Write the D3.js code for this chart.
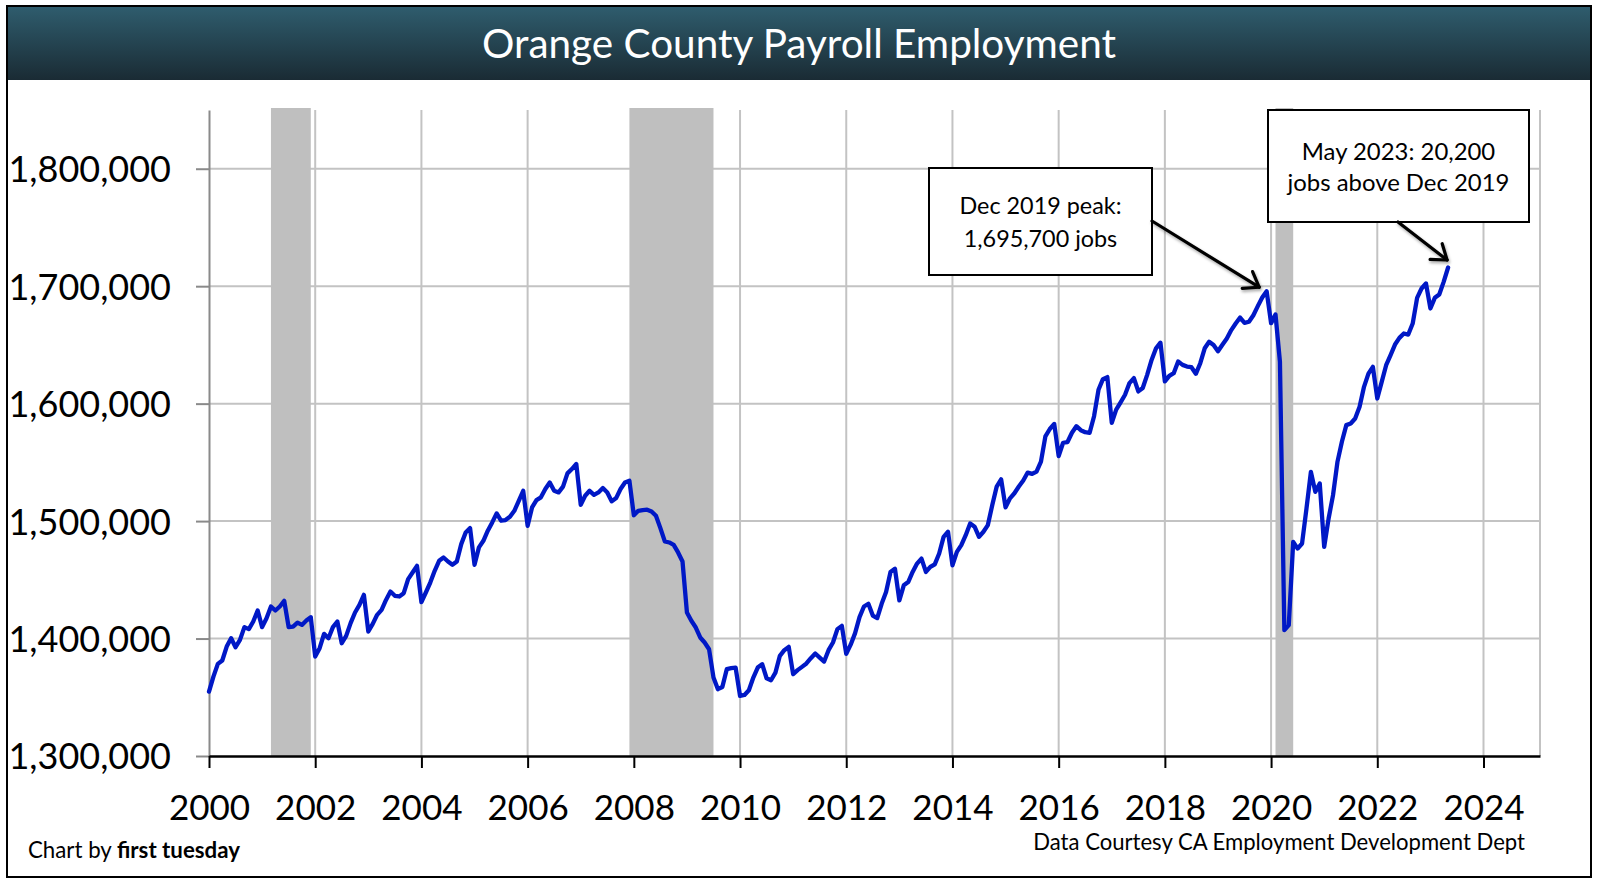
<!DOCTYPE html>
<html>
<head>
<meta charset="utf-8">
<script src="https://cdn.jsdelivr.net/npm/d3@7"></script>
<style>
  html, body { margin: 0; padding: 0; background: #ffffff; }
  svg { display: block; font-family: Lato, "Open Sans", "Noto Sans", sans-serif; }
</style>
</head>
<body>
<svg id="chart" width="1598" height="886"></svg>
<script>
// ---------------- DATA ----------------
const chartTitle = "Orange County Payroll Employment";
const startYear = 2000; // first monthly observation: Jan 2000
const payroll = [
  // 2000
  1354800, 1367600, 1378400, 1381300, 1393200, 1400300, 1392600, 1398900, 1409700, 1408000, 1414500, 1423900,
  // 2001
  1409700, 1417300, 1427300, 1423900, 1427300, 1432100, 1409700, 1410200, 1413600, 1411600, 1415300, 1418200,
  // 2002
  1384700, 1391800, 1404000, 1400300, 1409700, 1414500, 1396000, 1402300, 1413100, 1422200, 1428700, 1437200,
  // 2003
  1406000, 1412500, 1420200, 1424400, 1432900, 1440000, 1436400, 1435800, 1438600, 1450600, 1456200, 1461900,
  // 2004
  1431000, 1439200, 1447700, 1457700, 1466200, 1469000, 1465600, 1462800, 1465600, 1480400, 1490300, 1494000,
  // 2005
  1462800, 1477600, 1483200, 1491800, 1498900, 1506500, 1500300, 1500900, 1503700, 1508800, 1517300, 1525800,
  // 2006
  1496000, 1511600, 1517900, 1520200, 1527300, 1532900, 1525800, 1524400, 1529300, 1540600, 1544300, 1548600,
  // 2007
  1513900, 1521600, 1525800, 1522400, 1524400, 1528100, 1524400, 1516800, 1519600, 1527300, 1532900, 1534400,
  // 2008
  1505000, 1508800, 1509400, 1509700, 1508200, 1504500, 1494000, 1482700, 1481800, 1479800, 1473300, 1465600,
  // 2009
  1422200, 1415100, 1409400, 1400900, 1396600, 1390900, 1366800, 1356900, 1358700, 1373900, 1374800, 1375300,
  // 2010
  1351200, 1352000, 1356000, 1366800, 1375300, 1378200, 1366200, 1364500, 1371000, 1385300, 1390100, 1392900,
  // 2011
  1369600, 1373100, 1375900, 1378800, 1383300, 1387300, 1383800, 1380400, 1390100, 1396600, 1408000, 1410800,
  // 2012
  1386900, 1394800, 1404600, 1418200, 1427300, 1429600, 1419600, 1417400, 1429600, 1439600, 1456700, 1459500,
  // 2013
  1432500, 1445300, 1448100, 1456700, 1463800, 1468100, 1456700, 1461000, 1463200, 1472400, 1486600, 1490900,
  // 2014
  1462400, 1473800, 1479500, 1488000, 1498000, 1495200, 1486600, 1490900, 1496600, 1513700, 1529400, 1535600,
  // 2015
  1511700, 1519400, 1523700, 1529400, 1534500, 1541300, 1540200, 1542200, 1550700, 1572100, 1578400, 1582700,
  // 2016
  1555400, 1566700, 1567300, 1575200, 1580800, 1577400, 1575700, 1575200, 1589300, 1611800, 1620900, 1622600,
  // 2017
  1583600, 1594900, 1601100, 1607600, 1617500, 1621700, 1610400, 1613300, 1624500, 1637200, 1647100, 1651900,
  // 2018
  1618900, 1623700, 1625900, 1635800, 1633000, 1631600, 1631000, 1625400, 1634400, 1647100, 1652700, 1649900,
  // 2019
  1644600, 1650100, 1655500, 1662600, 1668200, 1673300, 1668800, 1669700, 1675300, 1683000, 1690300, 1695700,
  // 2020
  1668500, 1675900, 1635600, 1407100, 1411400, 1482300, 1476600, 1480900, 1510700, 1541900, 1524900, 1532000,
  // 2021
  1478100, 1502200, 1522100, 1550400, 1567500, 1581700, 1583100, 1587300, 1597300, 1614300, 1625600, 1631300,
  // 2022
  1604400, 1618500, 1632700, 1641300, 1650300, 1656000, 1659700, 1658800, 1668200, 1690100, 1698000, 1702300,
  // 2023
  1681000, 1690100, 1692900, 1703700, 1715900
];
const xTickYears = [2000, 2002, 2004, 2006, 2008, 2010, 2012, 2014, 2016, 2018, 2020, 2022, 2024];
const yTickValues = [1300000, 1400000, 1500000, 1600000, 1700000, 1800000];
const recessionStart = [2001 + 2 / 12, 2007 + 11 / 12, 2020 + 1 / 12];
const recessionEnd   = [2001 + 11 / 12, 2009 + 6 / 12, 2020 + 5 / 12];
const notePeakLines = ["Dec 2019 peak:", "1,695,700 jobs"];
const noteLatestLines = ["May 2023: 20,200", "jobs above Dec 2019"];
const notePeakIndex = 239;   // Dec 2019
const noteLatestIndex = 280; // May 2023
const creditLeft = ["Chart by ", "first tuesday"];
const creditRight = "Data Courtesy CA Employment Development Dept";

// ---------------- LAYOUT ----------------
const W = 1598, H = 886;
const plot = { left: 209, right: 1540, top: 110, bottom: 756 };
const svg = d3.select("#chart");

function fitWidth(sel, target) {
  const len = sel.node().getComputedTextLength();
  const fs = parseFloat(sel.attr("font-size"));
  sel.attr("font-size", (fs * target / len).toFixed(2));
}

const x = d3.scaleLinear().domain([2000, 2025.064]).range([plot.left, plot.right]);
const y = d3.scaleLinear().domain([1300000, 1850000]).range([plot.bottom, plot.top]);
const series = payroll.map((v, i) => ({ t: startYear + i / 12, v }));

// Defs
const defs = svg.append("defs");
const grad = defs.append("linearGradient").attr("id", "titleGrad")
  .attr("x1", 0).attr("y1", 0).attr("x2", 0).attr("y2", 1);
grad.append("stop").attr("offset", "0%").attr("stop-color", "#2f5d6e");
grad.append("stop").attr("offset", "100%").attr("stop-color", "#1a2b34");
const shadow = defs.append("filter").attr("id", "arrowShadow")
  .attr("x", "-20%").attr("y", "-20%").attr("width", "140%").attr("height", "140%");
shadow.append("feDropShadow").attr("dx", 1).attr("dy", 2).attr("stdDeviation", 1.5)
  .attr("flood-color", "#000").attr("flood-opacity", 0.35);

// Background
svg.append("rect").attr("x", 0).attr("y", 0).attr("width", W).attr("height", H).attr("fill", "#ffffff");

// Title bar
svg.append("rect").attr("x", 7).attr("y", 6).attr("width", 1584).attr("height", 74)
  .attr("fill", "url(#titleGrad)");
const titleText = svg.append("text").attr("x", 799).attr("y", 58)
  .attr("text-anchor", "middle").attr("fill", "#ffffff").attr("font-size", 36)
  .text(chartTitle);
fitWidth(titleText, 634);

// Gridlines
const grid = svg.append("g");
grid.selectAll("line.h").data(yTickValues.slice(1)).join("line")
  .attr("x1", plot.left).attr("x2", plot.right)
  .attr("y1", d => y(d)).attr("y2", d => y(d))
  .attr("stroke", "#c3c3c3").attr("stroke-width", 2);
grid.selectAll("line.v").data(xTickYears.slice(1).concat([x.domain()[1]])).join("line")
  .attr("x1", d => x(d)).attr("x2", d => x(d))
  .attr("y1", plot.top).attr("y2", plot.bottom)
  .attr("stroke", "#c3c3c3").attr("stroke-width", 2);

// Recession bands
svg.append("g").selectAll("rect").data(recessionStart).join("rect")
  .attr("x", d => x(d))
  .attr("width", (d, i) => x(recessionEnd[i]) - x(d))
  .attr("y", plot.top - 2).attr("height", plot.bottom - plot.top + 2)
  .attr("fill", "#bfbfbf");

// Y axis
const yAxis = svg.append("g").attr("transform", `translate(${plot.left},0)`)
  .call(d3.axisLeft(y).tickValues(yTickValues).tickSize(13).tickSizeOuter(0)
    .tickPadding(25).tickFormat(d3.format(",")));
yAxis.select(".domain").attr("stroke", "#8a8a8a").attr("stroke-width", 2);
yAxis.selectAll(".tick line").attr("stroke", "#8a8a8a").attr("stroke-width", 2);
yAxis.selectAll(".tick text").attr("font-size", 36).attr("fill", "#000")
  .attr("font-family", "Lato, sans-serif").attr("dy", "0.36em");

// X axis
const xAxis = svg.append("g").attr("transform", `translate(0,${plot.bottom})`)
  .call(d3.axisBottom(x).tickValues(xTickYears).tickSize(12).tickSizeOuter(0)
    .tickFormat(d3.format("d")));
xAxis.select(".domain").attr("stroke", "#000").attr("stroke-width", 2.5);
xAxis.selectAll(".tick line").attr("stroke", "#000").attr("stroke-width", 2);
xAxis.selectAll(".tick text").attr("font-size", 35).attr("fill", "#000")
  .attr("font-family", "Lato, sans-serif").attr("y", 64).attr("dy", 0);

// Data line
svg.append("path").datum(series)
  .attr("fill", "none").attr("stroke", "#0018c6").attr("stroke-width", 4.3)
  .attr("stroke-linejoin", "round").attr("stroke-linecap", "round")
  .attr("d", d3.line().x(d => x(d.t)).y(d => y(d.v)));

// Annotations
function noteBox(bx, by, bw, bh, lines, baselines, fitIndex, fitTarget) {
  const g = svg.append("g");
  g.append("rect").attr("x", bx).attr("y", by).attr("width", bw).attr("height", bh)
    .attr("fill", "#fff").attr("stroke", "#000").attr("stroke-width", 2);
  const texts = lines.map((s, i) => g.append("text")
    .attr("x", bx + bw / 2).attr("y", baselines[i]).attr("text-anchor", "middle")
    .attr("font-size", 22).attr("fill", "#000").text(s));
  fitWidth(texts[fitIndex], fitTarget);
  const fs = texts[fitIndex].attr("font-size");
  texts.forEach(t => t.attr("font-size", fs));
}
noteBox(929, 168, 223, 107, notePeakLines, [214, 247], 0, 162);
noteBox(1268, 110, 261, 112, noteLatestLines, [160, 191], 1, 222);

function arrow(x0, y0, x1, y1) {
  const g = svg.append("g").attr("stroke", "#000").attr("stroke-width", 3.2)
    .attr("fill", "none").attr("stroke-linecap", "round").attr("stroke-linejoin", "round")
    .attr("filter", "url(#arrowShadow)");
  g.append("line").attr("x1", x0).attr("y1", y0).attr("x2", x1).attr("y2", y1);
  const a = Math.atan2(y1 - y0, x1 - x0), L = 17, s = 0.62;
  g.append("path").attr("d",
    `M${x1 - L * Math.cos(a - s)},${y1 - L * Math.sin(a - s)}L${x1},${y1}L${x1 - L * Math.cos(a + s)},${y1 - L * Math.sin(a + s)}`);
}
const pPeak = series[notePeakIndex], pLast = series[noteLatestIndex];
arrow(1152, 221, x(pPeak.t) - 7.5, y(pPeak.v) - 4);
arrow(1398, 222, x(pLast.t) - 1, y(pLast.v) - 7.5);

// Credits
const cl = svg.append("text").attr("x", 28).attr("y", 858).attr("font-size", 20).attr("fill", "#000");
cl.append("tspan").text(creditLeft[0]);
cl.append("tspan").attr("font-weight", "bold").text(creditLeft[1]);
fitWidth(cl, 212);
const cr = svg.append("text").attr("x", 1525).attr("y", 850).attr("text-anchor", "end")
  .attr("font-size", 20).attr("fill", "#000").text(creditRight);
fitWidth(cr, 492);

// Outer frame
svg.append("rect").attr("x", 7).attr("y", 6).attr("width", 1584).attr("height", 871)
  .attr("fill", "none").attr("stroke", "#000").attr("stroke-width", 2);
</script>
</body>
</html>
